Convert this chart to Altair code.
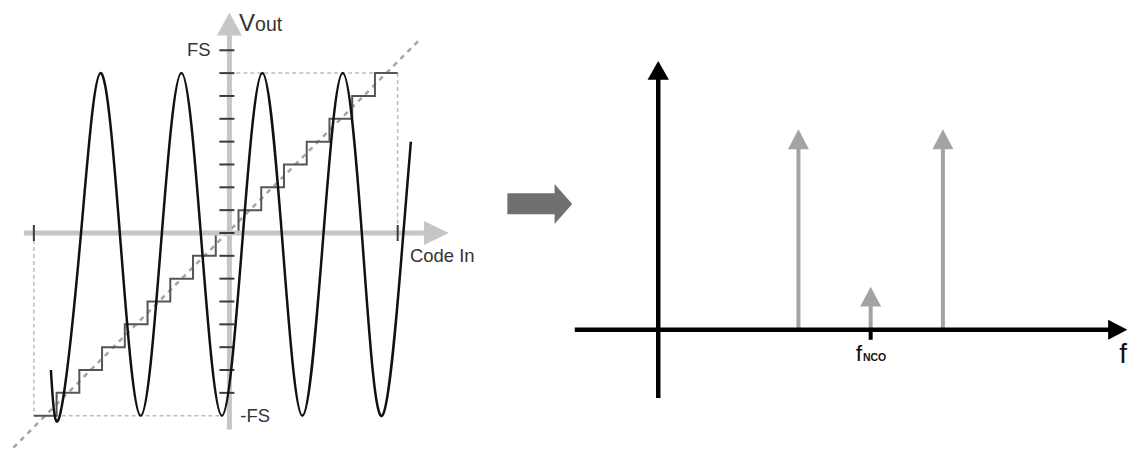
import altair as alt
import pandas as pd

# ---------------- Left panel data: x = input code, y = output level (LSB) ----------------
LEVEL_TICKS = [-7, -6, -5, -4, -3, -2, -1, 0, 1, 2, 3, 4, 5, 6, 7, 8]
CODE_TICKS = [-8.6, 7.4]
STEP_CODES = [-8.6, -7.6, -6.6, -5.6, -4.6, -3.6, -2.6, -1.6, -0.6, 0.4, 1.4, 2.4, 3.4, 4.4, 5.4, 6.4, 7.4]
STEP_LEVELS = [-8, -7, -6, -5, -4, -3, -2, -1, 0, 1, 2, 3, 4, 5, 6, 7, 7]
IDEAL_CODES = [-9.5, 8.4]
IDEAL_LEVELS = [-9.4, 8.5]
SINE_CODES = [-7.85, -7.46, -6.57, -5.67, -4.78, -3.90, -3.01, -2.11, -1.22, -0.33,
              0.56, 1.45, 2.34, 3.21, 4.10, 4.98, 5.86, 6.72, 7.61, 7.98]
SINE_LEVELS = [-6.0, -8.0, -0.5, 7.0, -0.5, -8.0, -0.5, 7.0, -0.5, -8.0,
               -0.5, 7.0, -0.5, -8.0, -0.5, 7.0, -0.5, -8.0, -0.5, 4.0]
FS_LEVEL = 8
NEG_FS_LEVEL = -8
TOP_LEVEL = 7

# ---------------- Right panel data: x = frequency, y = amplitude ----------------
SPIKE_FREQS = [1.98, 3.0, 4.02]
SPIKE_AMPS = [1.0, 0.215, 1.0]
F_NCO = 3.0

FONT = "Liberation Sans"

# ---------------- Left panel ----------------
LW, LH = 480, 443
lx = alt.Scale(domain=[-9.605, 11.447], nice=False, zero=False)
ly = alt.Scale(domain=[-9.52, 9.825], nice=False, zero=False)


def enc(scx, scy, x="x", y="y", x2=None, y2=None):
    d = dict(x=alt.X(x, type="quantitative", scale=scx, axis=None),
             y=alt.Y(y, type="quantitative", scale=scy, axis=None))
    if x2:
        d["x2"] = alt.X2(x2)
    if y2:
        d["y2"] = alt.Y2(y2)
    return d


frame = pd.DataFrame({
    "x": [STEP_CODES[0], STEP_CODES[0], 0, STEP_CODES[-1]],
    "x2": [STEP_CODES[0], SINE_CODES[9], STEP_CODES[-1], STEP_CODES[-1]],
    "y": [0, NEG_FS_LEVEL, TOP_LEVEL, TOP_LEVEL],
    "y2": [NEG_FS_LEVEL, NEG_FS_LEVEL, TOP_LEVEL, 0],
})
frame_l = alt.Chart(frame).mark_rule(color="#bdbdbd", strokeWidth=1.5, strokeDash=[4, 3]).encode(
    **enc(lx, ly, x2="x2", y2="y2"))

ideal = pd.DataFrame({"x": IDEAL_CODES, "y": IDEAL_LEVELS})
ideal_l = alt.Chart(ideal).mark_line(color="#a4a4a4", strokeWidth=2.5, strokeDash=[5, 5]).encode(**enc(lx, ly))

axes = pd.DataFrame({"x": [-9.04, 0], "x2": [8.6, 0], "y": [0, -8.6], "y2": [0, 8.7]})
axes_l = alt.Chart(axes).mark_rule(color="#c6c6c6", strokeWidth=5).encode(**enc(lx, ly, x2="x2", y2="y2"))

heads_r = alt.Chart(pd.DataFrame({"x": [9.65], "y": [0]})).mark_point(
    shape="M0,0L-2.08,-1L-2.08,1Z", size=576, filled=True, opacity=1, color="#c6c6c6", strokeWidth=0
).encode(**enc(lx, ly))
heads_u = alt.Chart(pd.DataFrame({"x": [0], "y": [9.65]})).mark_point(
    shape="M0,0L-1,1.84L1,1.84Z", size=625, filled=True, opacity=1, color="#c6c6c6", strokeWidth=0
).encode(**enc(lx, ly))

lt = pd.DataFrame({"y": LEVEL_TICKS})
lt["x"] = -0.44
lt["x2"] = 0.22
lticks = alt.Chart(lt).mark_rule(color="#3a3a3a", strokeWidth=2).encode(**enc(lx, ly, x2="x2"))

ct = pd.DataFrame({"x": CODE_TICKS})
ct["y"] = -0.35
ct["y2"] = 0.35
cticks = alt.Chart(ct).mark_rule(color="#3a3a3a", strokeWidth=2).encode(**enc(lx, ly, y2="y2"))

stairs = pd.DataFrame({"x": STEP_CODES, "y": STEP_LEVELS})
stairs_l = alt.Chart(stairs).mark_line(color="#555555", strokeWidth=2, interpolate="step-after").encode(**enc(lx, ly))

sine = pd.DataFrame({"x": SINE_CODES, "y": SINE_LEVELS})
sine_l = alt.Chart(sine).mark_line(color="#111111", strokeWidth=2.5, interpolate="natural").encode(**enc(lx, ly))


def label(text, x, y, scx, scy, size, align="left", baseline="middle", color="#333333", weight="normal"):
    df = pd.DataFrame({"x": [x], "y": [y], "t": [text]})
    return alt.Chart(df).mark_text(font=FONT, fontSize=size, align=align, baseline=baseline, color=color,
                                   fontWeight=weight).encode(text="t:N", **enc(scx, scy))


v_lbl = label("V", 0.42, 8.86, lx, ly, 24, baseline="alphabetic")
out_lbl = label("out", 1.13, 8.86, lx, ly, 19.5, baseline="alphabetic")
fs = label("FS", -0.83, FS_LEVEL, lx, ly, 18.5, align="right")
nfs = label("-FS", 0.48, NEG_FS_LEVEL, lx, ly, 18.5)
codein = label("Code In", 7.94, -1.03, lx, ly, 18.5)

left = alt.layer(frame_l, ideal_l, stairs_l, axes_l, heads_r, heads_u, lticks, cticks, sine_l,
                 v_lbl, out_lbl, fs, nfs, codein).properties(width=LW, height=LH)

# ---------------- Right panel ----------------
RW, RH = 640, 443
rx = alt.Scale(domain=[-2.380, 6.634], nice=False, zero=False)
ry = alt.Scale(domain=[-0.602, 1.602], nice=False, zero=False)

big_shaft = alt.Chart(pd.DataFrame({"x": [-2.131], "x2": [-1.45], "y": [0.628]})).mark_rule(
    color="#707070", strokeWidth=21).encode(**enc(rx, ry, x2="x2"))
big_head = alt.Chart(pd.DataFrame({"x": [-1.215], "y": [0.627]})).mark_point(
    shape="M0,0L-0.885,-1L-0.885,1Z", size=1600, filled=True, opacity=1, color="#707070", strokeWidth=0
).encode(**enc(rx, ry))

spk = pd.DataFrame({"x": SPIKE_FREQS, "y2": SPIKE_AMPS})
spk["y"] = 0.0
spk["y2"] = spk["y2"] - 0.09
spike_l = alt.Chart(spk).mark_rule(color="#a3a3a3", strokeWidth=4).encode(**enc(rx, ry, y2="y2"))
spike_h = alt.Chart(pd.DataFrame({"x": SPIKE_FREQS, "y": SPIKE_AMPS})).mark_point(
    shape="M0,0L-1,1.9L1,1.9Z", size=441, filled=True, opacity=1, color="#a3a3a3", strokeWidth=0
).encode(**enc(rx, ry))

raxes = pd.DataFrame({"x": [-1.179, 0], "x2": [6.37, 0], "y": [0, -0.34], "y2": [0, 1.26]})
raxes_l = alt.Chart(raxes).mark_rule(color="#000000", strokeWidth=4.5).encode(**enc(rx, ry, x2="x2", y2="y2"))
rhead_r = alt.Chart(pd.DataFrame({"x": [6.625], "y": [0]})).mark_point(
    shape="M0,0L-1.93,-1L-1.93,1Z", size=400, filled=True, opacity=1, color="#000000", strokeWidth=0
).encode(**enc(rx, ry))
rhead_u = alt.Chart(pd.DataFrame({"x": [0], "y": [1.34]})).mark_point(
    shape="M0,0L-1,1.74L1,1.74Z", size=458, filled=True, opacity=1, color="#000000", strokeWidth=0
).encode(**enc(rx, ry))

nco_tick = alt.Chart(pd.DataFrame({"x": [F_NCO], "y": [0], "y2": [-0.05]})).mark_rule(
    color="#000000", strokeWidth=4).encode(**enc(rx, ry, y2="y2"))

f_lbl = label("f", F_NCO - 0.21, -0.154, rx, ry, 23, baseline="alphabetic", color="#111111")
nco_lbl = label("NCO", F_NCO - 0.11, -0.154, rx, ry, 10.5, baseline="alphabetic", color="#111111", weight="bold")
f_axis = label("f", 6.62, -0.164, rx, ry, 28, align="right", baseline="alphabetic", color="#111111")

right = alt.layer(big_shaft, big_head, spike_l, spike_h, raxes_l, rhead_r, rhead_u, nco_tick,
                  f_lbl, nco_lbl, f_axis).properties(width=RW, height=RH)

chart = alt.hconcat(left, right, spacing=0, bounds="flush", padding=0).configure_view(stroke=None)

chart.save("out.html", embed_options={"renderer": "svg", "actions": False})
